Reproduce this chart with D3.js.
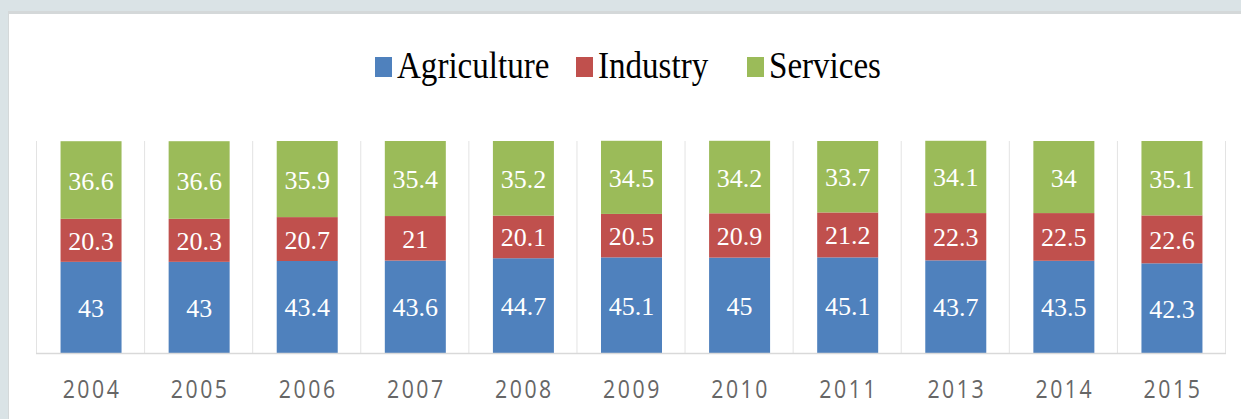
<!DOCTYPE html>
<html>
<head>
<meta charset="utf-8">
<script src="https://cdn.jsdelivr.net/npm/d3@7"></script>
<style>
  html, body { margin: 0; padding: 0; background: #dae3e6; }
  svg { display: block; }
</style>
</head>
<body>
<svg id="chart" width="1241" height="419"></svg>
<script>
(function() {
// data
const years = ['2004', '2005', '2006', '2007', '2008', '2009', '2010', '2011', '2013', '2014', '2015'];
const sectors = ['Agriculture', 'Industry', 'Services'];
const agriculture = [43, 43, 43.4, 43.6, 44.7, 45.1, 45, 45.1, 43.7, 43.5, 42.3];
const industry = [20.3, 20.3, 20.7, 21, 20.1, 20.5, 20.9, 21.2, 22.3, 22.5, 22.6];
const services = [36.6, 36.6, 35.9, 35.4, 35.2, 34.5, 34.2, 33.7, 34.1, 34, 35.1];
const colors = ['#4f81bd', '#c0504d', '#9bbb59'];

const svg = d3.select('svg#chart');
const W = +svg.attr('width');
const H = +svg.attr('height');

// frame: bluish backdrop, grey rim, white panel
svg.append('rect').attr('width', W).attr('height', H).attr('fill', '#dae3e6');
svg.append('rect').attr('x', 8).attr('y', 11).attr('width', W).attr('height', H).attr('fill', '#d4d8d9');
svg.append('rect').attr('x', 9).attr('y', 14).attr('width', W).attr('height', H).attr('fill', '#ffffff');

const margin = { top: 141, right: 16, bottom: 66, left: 36 };
const width = W - margin.left - margin.right;
const height = H - margin.top - margin.bottom;

const rows = years.map((y, i) => ({
  year: y,
  Agriculture: agriculture[i],
  Industry: industry[i],
  Services: services[i]
}));
const stacked = d3.stack().keys(sectors)(rows);

const x = d3.scaleBand().domain(years).range([0, width]).paddingInner(0).paddingOuter(0);
const y = d3.scaleLinear().domain([0, 100]).range([height, 0]);
const color = d3.scaleOrdinal().domain(sectors).range(colors);
const barW = 61;

const g = svg.append('g').attr('transform', `translate(${margin.left},${margin.top})`);

// vertical separators between categories
g.append('g')
  .selectAll('line')
  .data(years.concat(['end']))
  .join('line')
  .attr('x1', (d, i) => i < years.length ? x(d) + 0.5 : width + 0.5)
  .attr('x2', (d, i) => i < years.length ? x(d) + 0.5 : width + 0.5)
  .attr('y1', 0)
  .attr('y2', height)
  .attr('stroke', '#e3e3e3')
  .attr('stroke-width', 1);

// bars
const layer = g.selectAll('g.layer')
  .data(stacked)
  .join('g')
  .attr('class', 'layer')
  .attr('fill', d => color(d.key));

layer.selectAll('rect')
  .data(d => d)
  .join('rect')
  .attr('x', d => x(d.data.year) + (x.bandwidth() - barW) / 2 + 1)
  .attr('width', barW)
  .attr('y', d => y(d[1]))
  .attr('height', d => y(d[0]) - y(d[1]));

// value labels
layer.selectAll('text')
  .data(d => d.map(v => ({ v, key: d.key })))
  .join('text')
  .attr('x', d => x(d.v.data.year) + x.bandwidth() / 2 + 1)
  .attr('y', d => (y(d.v[0]) + y(d.v[1])) / 2 + 1)
  .attr('text-anchor', 'middle')
  .attr('dominant-baseline', 'central')
  .attr('fill', '#ffffff')
  .style('font-family', '"Liberation Serif", "Times New Roman", serif')
  .style('font-size', '26px')
  .text(d => d.v.data[d.key]);

// baseline
g.append('line')
  .attr('x1', 0).attr('x2', width + 1)
  .attr('y1', height + 0.5).attr('y2', height + 0.5)
  .attr('stroke', '#d9d9d9')
  .attr('stroke-width', 1.5);

// year labels
const xAxis = g.append('g')
  .attr('transform', `translate(0,${height})`)
  .call(d3.axisBottom(x).tickSize(0).tickPadding(0));
xAxis.select('.domain').remove();
xAxis.selectAll('text')
  .attr('x', 0)
  .attr('y', 0)
  .attr('dy', null)
  .attr('text-anchor', 'middle')
  .attr('fill', '#666666')
  .style('font-family', '"Open Sans", sans-serif')
  .style('font-size', '25px')
  .style('letter-spacing', '3px')
  .attr('transform', 'translate(2,45) scale(0.85,1)');

// legend
const legendX = [375, 576, 747];
const legend = svg.append('g')
  .selectAll('g')
  .data(sectors)
  .join('g')
  .attr('transform', (d, i) => `translate(${legendX[i]},57)`);
legend.append('rect')
  .attr('width', 17).attr('height', 20)
  .attr('fill', d => color(d));
legend.append('text')
  .attr('transform', 'translate(22,21) scale(0.87,1)')
  .attr('fill', '#000000')
  .style('font-family', '"Liberation Serif", "Times New Roman", serif')
  .style('font-size', '38px')
  .text(d => d);
})();
</script>
</body>
</html>
